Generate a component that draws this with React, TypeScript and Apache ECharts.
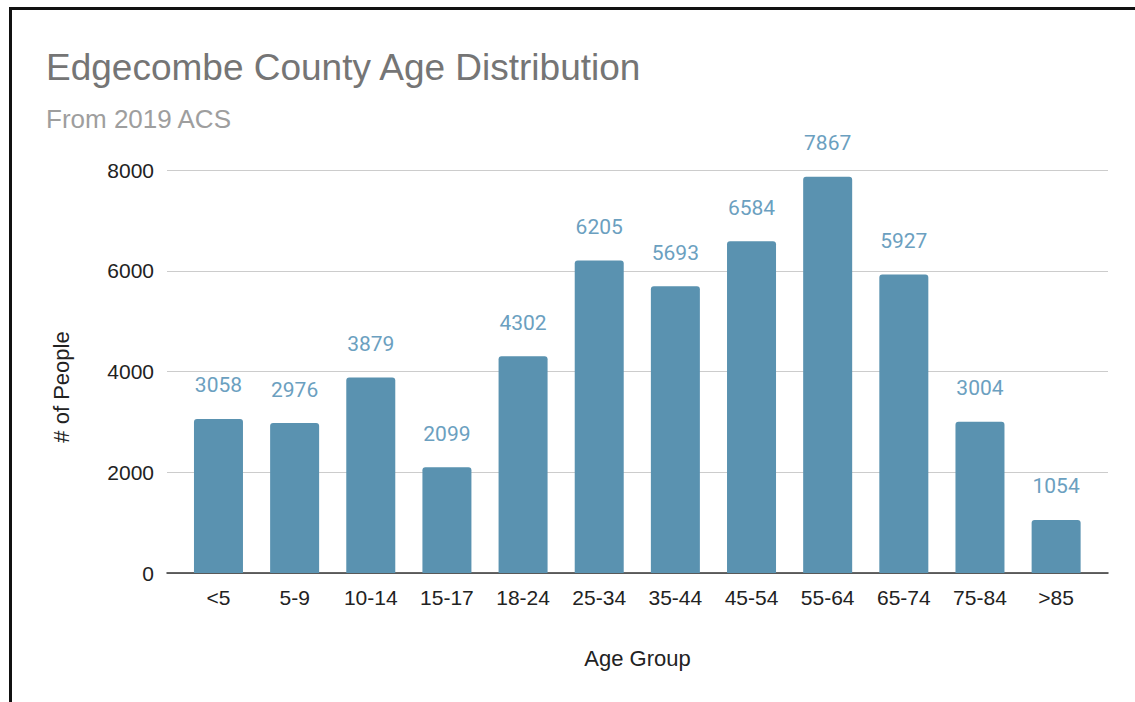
import React, { useEffect, useRef } from "react";
import * as echarts from "echarts";

const categories = ["<5", "5-9", "10-14", "15-17", "18-24", "25-34", "35-44", "45-54", "55-64", "65-74", "75-84", ">85"];
const people = [3058, 2976, 3879, 2099, 4302, 6205, 5693, 6584, 7867, 5927, 3004, 1054];
const yMin = 0;
const yMax = 8000;
const yInterval = 2000;

const titleText = "Edgecombe County Age Distribution";
const subtitleText = "From 2019 ACS";
const xName = "Age Group";
const yName = "# of People";

export default function App() {
  const ref = useRef<HTMLDivElement>(null);
  useEffect(() => {
    if (!ref.current) return;
    const chart = echarts.init(ref.current, null, { renderer: "svg" });
    const sans = "'Liberation Sans', Arial, sans-serif";
    chart.setOption({
      animation: false,
      backgroundColor: "#ffffff",
      grid: [
        { left: 167, right: 27, top: 170, bottom: 129 },
        { left: 180.4, right: 40.8, top: 170, bottom: 129 },
      ],
      xAxis: [
        {
          type: "value",
          gridIndex: 0,
          min: 0,
          max: 1,
          axisLine: { show: true, onZero: false, lineStyle: { color: "#333333", width: 1.5 } },
          axisTick: { show: false },
          axisLabel: { show: false },
          splitLine: { show: false },
        },
        {
          type: "category",
          gridIndex: 1,
          data: categories,
          axisLine: { show: false },
          axisTick: { show: false },
          axisLabel: { margin: 14, fontSize: 21, color: "#222222", fontFamily: sans },
        },
      ],
      yAxis: [
        {
          type: "value",
          gridIndex: 0,
          min: yMin,
          max: yMax,
          interval: yInterval,
          axisLine: { show: false },
          axisTick: { show: false },
          axisLabel: {
            margin: 13,
            fontSize: 21,
            color: "#222222",
            fontFamily: sans,
            formatter: (v: number) => String(v),
          },
          splitLine: { show: true, lineStyle: { color: "#cccccc", width: 1 } },
        },
        {
          type: "value",
          gridIndex: 1,
          min: yMin,
          max: yMax,
          interval: yInterval,
          show: false,
          splitLine: { show: false },
        },
      ],
      series: [
        {
          type: "bar",
          xAxisIndex: 1,
          yAxisIndex: 1,
          data: people,
          barWidth: 49,
          itemStyle: { color: "#5a92b0", borderRadius: [3, 3, 0, 0] },
          label: {
            show: true,
            position: "top",
            distance: 23,
            fontSize: 21,
            color: "#6ba0c0",
            fontFamily: "Roboto, sans-serif",
          },
        },
      ],
      graphic: [
        {
          type: "line",
          shape: { x1: 9, y1: 8.5, x2: 1135, y2: 8.5 },
          style: { stroke: "#111111", lineWidth: 3 },
        },
        {
          type: "line",
          shape: { x1: 10.5, y1: 7, x2: 10.5, y2: 702 },
          style: { stroke: "#111111", lineWidth: 3 },
        },
        {
          type: "text",
          x: 46,
          y: 67,
          style: {
            text: titleText,
            fontSize: 37,
            fontFamily: sans,
            fill: "#757575",
            align: "left",
            verticalAlign: "middle",
          },
        },
        {
          type: "text",
          x: 46,
          y: 119,
          style: {
            text: subtitleText,
            fontSize: 26,
            fontFamily: sans,
            fill: "#9e9e9e",
            align: "left",
            verticalAlign: "middle",
          },
        },
        {
          type: "text",
          x: 637.5,
          y: 658,
          style: {
            text: xName,
            fontSize: 22,
            fontFamily: sans,
            fill: "#222222",
            align: "center",
            verticalAlign: "middle",
          },
        },
        {
          type: "text",
          x: 61,
          y: 387,
          rotation: Math.PI / 2,
          style: {
            text: yName,
            fontSize: 22,
            fontFamily: sans,
            fill: "#222222",
            align: "center",
            verticalAlign: "middle",
          },
        },
      ],
    });
    return () => chart.dispose();
  }, []);
  return (
    <div
      ref={ref}
      style={{ position: "fixed", left: 0, top: 0, width: 1135, height: 702 }}
    />
  );
}
